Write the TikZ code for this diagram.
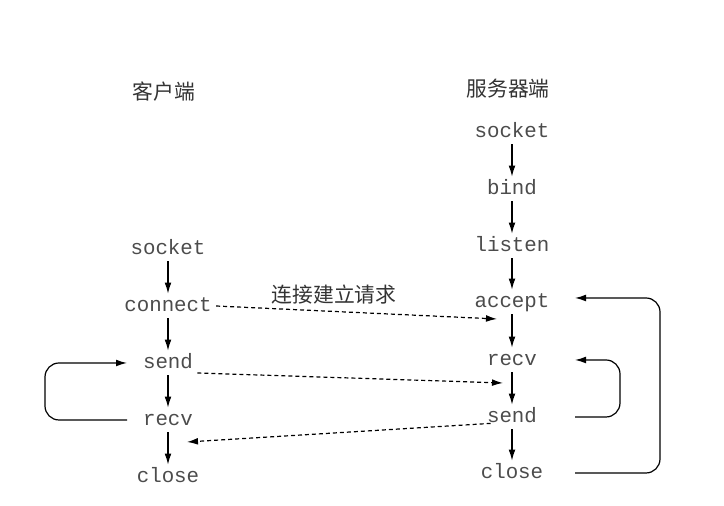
\documentclass[tikz,border=0pt]{standalone}
\usepackage{fontspec}
\setmonofont{Liberation Mono}
\newfontfamily\cjk{Noto Sans CJK SC}
\usetikzlibrary{arrows.meta}

\begin{document}
\begin{tikzpicture}[x=0.5pt,y=-0.5pt,
    f/.style={font=\fontsize{10.4}{12}\ttfamily, text=black!70, inner sep=2pt,
        text height=7pt, text depth=1pt, anchor=base},
    t/.style={font=\fontsize{10.4}{12}\cjk, text=black!80},
    a/.style={-{Latex[length=5.5pt,width=3.4pt]}, line width=0.6pt},
    d/.style={a, dash pattern=on 2pt off 1.5pt},
    l/.style={a, rounded corners=7pt}]
    \useasboundingbox (0,0) rectangle (724,506);

    \node[t] (ct) at (164,92) {客户端};
    \node[t] (st) at (508,89) {服务器端};

    \node[f] (c1) at (168,255) {socket};
    \node[f] (c2) at (168,312) {connect};
    \node[f] (c3) at (168,369) {send};
    \node[f] (c4) at (168,426) {recv};
    \node[f] (c5) at (168,483) {close};

    \node[f] (s1) at (512,138) {socket};
    \node[f] (s2) at (512,195) {bind};
    \node[f] (s3) at (512,252) {listen};
    \node[f] (s4) at (512,308) {accept};
    \node[f] (s5) at (512,366) {recv};
    \node[f] (s6) at (512,423) {send};
    \node[f] (s7) at (512,479) {close};

    \coordinate (lx) at (127,0);
    \coordinate (lo) at (45,0);
    \coordinate (rx) at (575,0);
    \coordinate (ri) at (620,0);
    \coordinate (ro) at (660,0);

    \coordinate (t1) at (497,319);
    \coordinate (t2) at (503,383);
    \coordinate (t3) at (187,442);

    \draw[a] (c1) to (c2);
    \draw[a] (c2) to (c3);
    \draw[a] (c3) to (c4);
    \draw[a] (c4) to (c5);

    \draw[a] (s1) to (s2);
    \draw[a] (s2) to (s3);
    \draw[a] (s3) to (s4);
    \draw[a] (s4) to (s5);
    \draw[a] (s5) to (s6);
    \draw[a] (s6) to (s7);

    \draw[d] (c2.east) to node[t, above, pos=0.42] {连接建立请求} (t1);
    \draw[d] ([yshift=-5pt]c3.east) to (t2);
    \draw[d] ([xshift=4pt,yshift=3pt]s6.south west) to (t3);

    \draw[l] (c4 -| lx) -- (c4 -| lo) -- (c3 -| lo) -- (c3 -| lx);
    \draw[l] (s6 -| rx) -- (s6 -| ri) -- (s5 -| ri) -- (s5 -| rx);
    \draw[l] (s7 -| rx) -- (s7 -| ro) -- ([yshift=2pt]s4 -| ro) -- ([yshift=2pt]s4 -| rx);
\end{tikzpicture}
\end{document}
